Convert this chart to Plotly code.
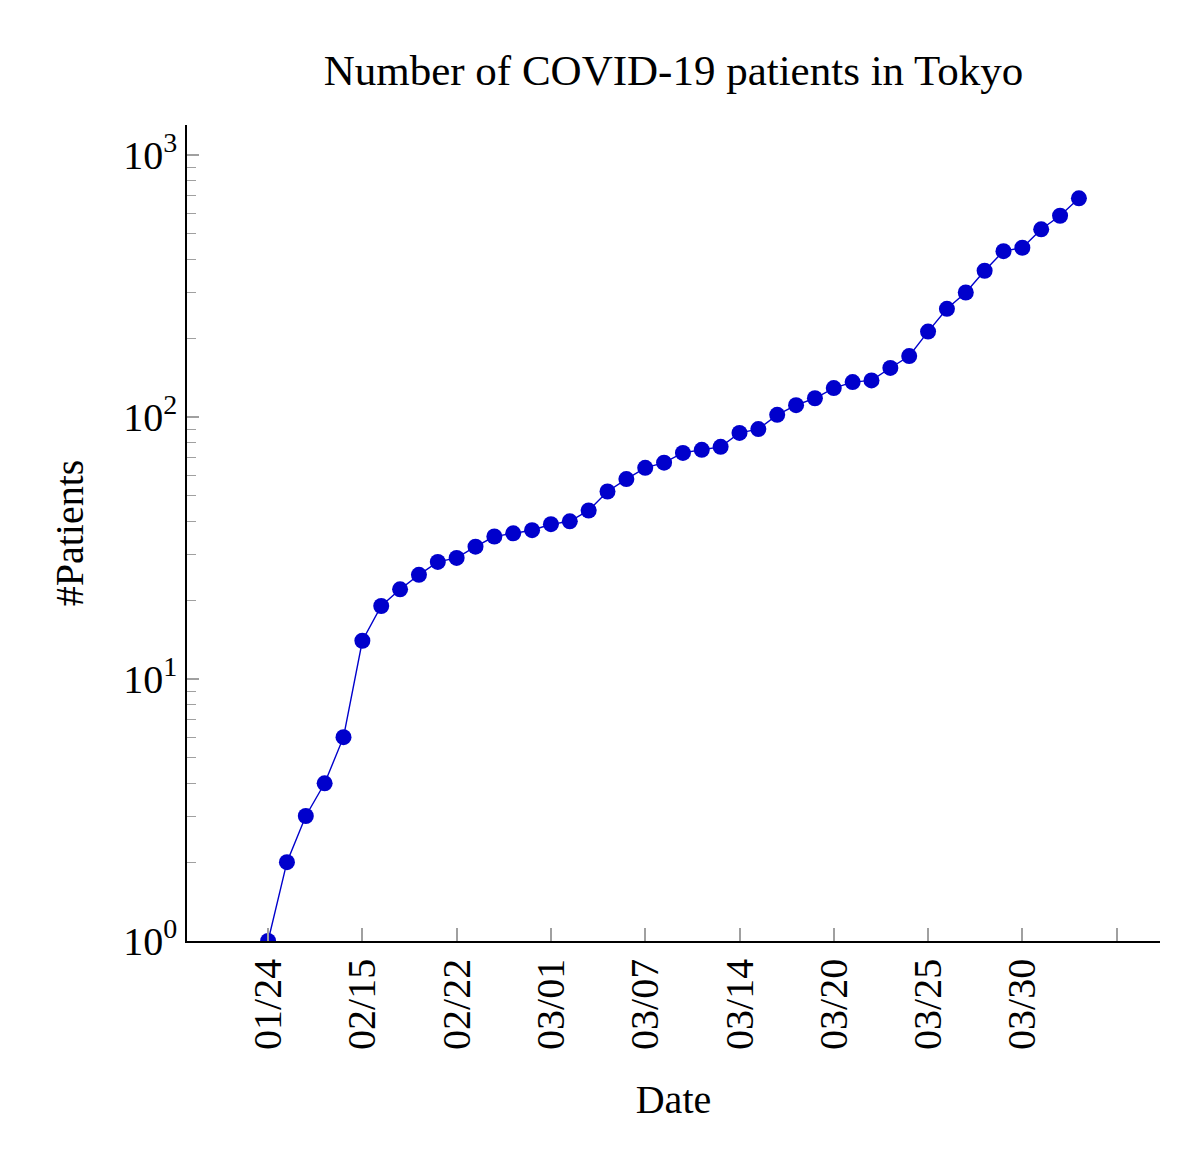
import numpy as np
import plotly.graph_objects as go

# Cumulative number of patients, one value per report
patients = [1, 2, 3, 4, 6, 14, 19, 22, 25, 28, 29, 32, 35, 36, 37, 39, 40, 44,
            52, 58, 64, 67, 73, 75, 77, 87, 90, 102, 111, 118, 129, 136, 138,
            154, 171, 212, 259, 299, 362, 430, 443, 521, 587, 684]

# x tick labels, one every 5 reports (last tick unlabeled)
date_labels = ["01/24", "02/15", "02/22", "03/01", "03/07", "03/14",
               "03/20", "03/25", "03/30", ""]

# y tick labels
y_tick_vals = [1, 10, 100, 1000]
y_tick_text = ["10<sup>0</sup>", "10<sup>1</sup>", "10<sup>2</sup>", "10<sup>3</sup>"]

x_index = np.arange(len(patients))
x_tickvals = np.arange(len(date_labels)) * 5

FONT = "Liberation Serif, DejaVu Serif, serif"
BLUE = "#0000CC"
TICKGRAY = "#a0a0a0"

fig = go.Figure()
fig.add_trace(go.Scatter(
    x=x_index, y=patients, mode="lines+markers",
    line=dict(color=BLUE, width=1.4),
    marker=dict(color=BLUE, size=16, line=dict(width=0)),
    showlegend=False,
))

fig.update_layout(
    width=1200, height=1166,
    paper_bgcolor="white", plot_bgcolor="white",
    margin=dict(l=179, r=48, t=117, b=233),
    font=dict(family=FONT, size=40, color="black"),
    title=dict(text="Number of COVID-19 patients in Tokyo", x=0.5546, xanchor="center",
               y=0.947, yanchor="middle", font=dict(family=FONT, size=43, color="black")),
)

fig.update_xaxes(
    range=[-4.3, 47.3],
    tickvals=x_tickvals, ticktext=date_labels,
    tickangle=-90,
    ticks="inside", ticklen=13, tickcolor=TICKGRAY, tickwidth=1.5,
    showline=True, linecolor="black", linewidth=1.5,
    showgrid=False, zeroline=False,
    tickfont=dict(family=FONT, size=40),
    title=dict(text="Date", font=dict(family=FONT, size=40), standoff=36),
)

fig.update_yaxes(
    type="log", range=[0, 3.115],
    tickvals=y_tick_vals, ticktext=y_tick_text,
    ticks="inside", ticklen=12, tickcolor=TICKGRAY, tickwidth=1.5,
    minor=dict(ticks="inside", ticklen=9, tickcolor=TICKGRAY, tickwidth=1.2,
               dtick="D1", showgrid=False),
    showline=True, linecolor="black", linewidth=1.5,
    showgrid=False, zeroline=False,
    tickfont=dict(family=FONT, size=40),
    title=dict(text="#Patients", font=dict(family=FONT, size=40), standoff=27),
)

fig.write_html("out.html")
